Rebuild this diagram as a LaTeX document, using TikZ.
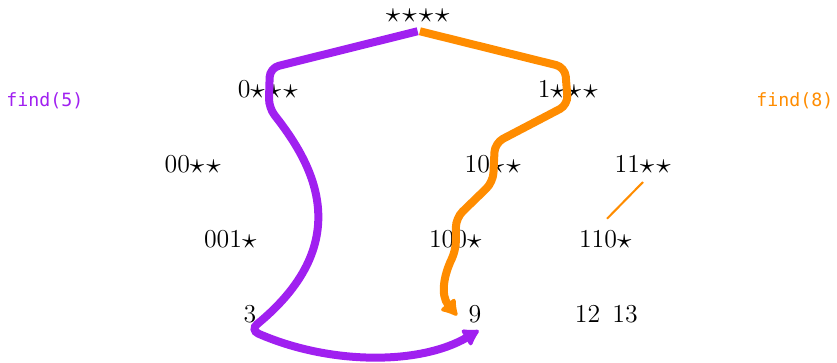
\documentclass[tikz,border=0pt]{standalone}
\usepackage{fontspec}
\usepackage{graphicx}
\usetikzlibrary{arrows.meta,positioning,calc}
\newfontfamily\findfont{DejaVu Sans Mono}
\definecolor{fpurple}{HTML}{A020F0}
\definecolor{forange}{HTML}{FF8C00}
\newcommand{\sr}{\raisebox{-0.4pt}{\scalebox{1.15}{$\star$}}\kern0.9pt}

\begin{document}
\begin{tikzpicture}[x=0.5769cm, y=1.1538cm, >={Latex[round,length=8pt,width=10pt]}, every node/.style={inner sep=1pt, font=\fontsize{11.3}{13}\selectfont}, walk/.style={line width=3.5pt, rounded corners=4pt}, callout/.style={font=\findfont\footnotesize}]
  \useasboundingbox (-3.667,-0.64) rectangle (18.653,4.187);
  \node (root) at (7.5,3.98) {\sr\sr\sr\sr};
  \node (n0) at (3.5,3) {0\sr\sr\sr};
  \node (n1) at (11.5,3) {1\sr\sr\sr};
  \node (n00) at (1.5,2) {00\sr\sr};
  \node (n10) at (9.5,2) {10\sr\sr};
  \node (n11) at (13.5,2) {11\sr\sr};
  \node (n001) at (2.5,1) {001\sr};
  \node (n100) at (8.5,1) {100\sr};
  \node (n110) at (12.5,1) {110\sr};
  \node (l3) at (3,0) {3};
  \node (l9) at (9,0) {9};
  \node (l12) at (12,0) {12};
  \node (l13) at (13,0) {13};
  \node[callout, text=fpurple] (f5) at (-2.47,2.84) {find(5)};
  \node[callout, text=forange] (f8) at (17.53,2.84) {find(8)};
  \coordinate (e11) at ($(n11)+(-0.02,-0.24)$);
  \coordinate (e110) at ($(n110)+(0.02,0.27)$);
  \draw[forange, line width=0.9pt] (e11) -- (e110);
  \draw[walk, fpurple, ->] ($(root)+(-0.03,-0.21)$) -- ($(n0)+(0.03,0.28)$) -- ($(n0)+(0,-0.25)$)
    .. controls (4.6,2.05) and (5.93,0.99) .. ($(l3)+(0,-0.213)$)
    .. controls (5.133,-0.68) and (7.533,-0.68) .. ($(l9)+(0.1,-0.22)$);
  \draw[walk, forange, ->] ($(root)+(0.03,-0.21)$) -- ($(n1)+(-0.1,0.29)$) -- ($(n1)+(-0.02,-0.21)$)
    -- ($(n10)+(0.03,0.28)$) -- ($(n10)+(-0.02,-0.24)$)
    -- ($(n100)+(-0.01,0.28)$) -- ($(n100)+(-0.01,-0.15)$)
    .. controls (8.17,0.52) and (8.07,0.253) .. ($(l9)+(-0.48,-0.02)$);
\end{tikzpicture}
\end{document}
